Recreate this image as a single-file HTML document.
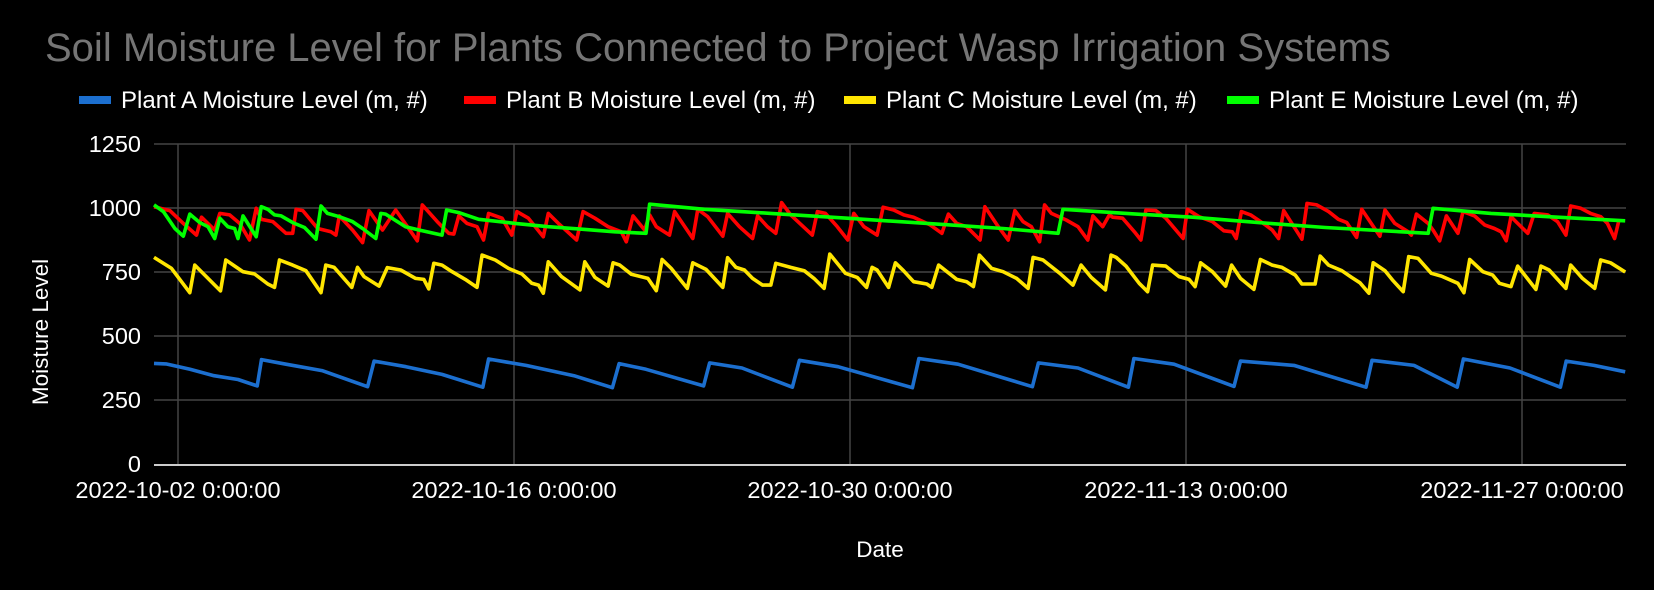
<!DOCTYPE html>
<html><head><meta charset="utf-8">
<style>
html,body{margin:0;padding:0;background:#000;}
svg{display:block;}
text{font-family:"Liberation Sans",Arial,sans-serif;}
</style></head>
<body>
<svg id="chart" width="1654" height="590" viewBox="0 0 1654 590" xmlns="http://www.w3.org/2000/svg">
<rect width="1654" height="590" fill="#000"/>
<text x="45" y="61" font-size="40" fill="#757575">Soil Moisture Level for Plants Connected to Project Wasp Irrigation Systems</text>
<g id="legend"></g>
<g id="grid"></g>
<g id="yticks"></g>
<g id="xticks"></g>
<g id="series"></g>
<text x="880" y="557" font-size="22.5" fill="#fff" text-anchor="middle">Date</text>
<text transform="translate(48,332) rotate(-90)" font-size="22.5" fill="#fff" text-anchor="middle">Moisture Level</text>
</svg>
<script>
// Day offsets from 2022-10-01 00:00
const yTickValues = [0, 250, 500, 750, 1000, 1250];
const xTickDays = [1, 15, 29, 43, 57];
const xTickLabels = ["2022-10-02 0:00:00","2022-10-16 0:00:00","2022-10-30 0:00:00","2022-11-13 0:00:00","2022-11-27 0:00:00"];
const seriesNames = ["Plant A Moisture Level (m, #)","Plant B Moisture Level (m, #)","Plant C Moisture Level (m, #)","Plant E Moisture Level (m, #)"];

const daysA = [0,0.5,1.5,2.5,3.5,4.3,4.48,5.5,7,8.9,9.17,10.5,12,13.7,13.94,15.5,17.5,19.1,19.38,20.5,22.9,23.15,24.5,26.6,26.89,28.5,31.6,31.87,33.5,36.6,36.85,38.5,40.6,40.83,42.5,45.0,45.27,47.5,50.5,50.75,52.5,54.3,54.56,56.5,58.6,58.84,60,61.3];
const valsA = [393,391,370,345,330,305,408,390,365,302,402,380,350,300,410,385,345,298,392,370,305,395,375,300,405,380,298,412,390,302,395,375,300,412,390,303,402,385,300,405,385,300,410,375,300,402,385,360];

const daysB = [0,0.66,1.22,1.77,1.98,2.53,2.74,3.15,3.57,3.98,4.26,4.47,4.95,5.5,5.78,5.92,6.2,6.82,7.37,7.58,7.72,8.27,8.69,8.96,9.52,10.07,10.97,11.18,11.8,12.28,12.49,12.7,13.04,13.46,13.73,13.94,14.5,14.91,15.12,15.6,16.22,16.43,16.85,17.61,17.88,18.37,18.92,19.47,19.68,19.96,20.44,
 20.65,20.93,21.48,21.69,22.45,22.66,23.07,23.7,23.9,24.39,24.94,25.15,25.56,25.91,26.15,26.53,27.43,27.64,27.98,28.47,28.91,29.16,29.58,30.13,30.38,30.82,31.24,31.65,32.34,32.83,33.1,33.45,33.86,34.42,34.62,35.18,35.59,35.87,36.21,36.56,36.9,37.11,37.39,38.01,38.5,38.91,39.12,39.53,39.81,39.95,40.36,
 40.85,41.12,41.33,41.74,42.16,42.88,43.06,43.54,44.1,44.58,44.93,45.09,45.31,45.69,46.31,46.59,46.86,47.07,47.83,48.04,48.45,48.94,49.35,49.7,50.11,50.32,51.08,51.29,51.7,52.26,52.39,52.6,53.09,53.29,53.57,53.85,54.33,54.54,55.02,55.44,55.85,56.13,56.34,56.54,56.82,57.24,57.51,58.07,58.48,58.83,59.03,59.45,59.86,60.28,60.56,60.86,61.04];
const valsB = [1005,990,940,894,964,914,979,973,940,875,999,956,947,901,901,995,990,920,907,894,969,914,865,990,914,992,872,1012,947,901,898,969,940,927,875,979,960,894,986,960,888,979,940,875,986,960,927,907,868,969,914,
 973,927,894,986,881,995,966,890,979,927,881,969,927,901,1021,973,894,986,979,927,875,979,927,894,1003,992,973,964,934,901,976,940,927,875,1005,927,875,990,947,927,868,1012,979,953,927,875,969,927,973,964,960,
 907,875,992,990,960,881,995,966,947,911,907,881,986,973,934,914,881,990,878,1018,1012,986,956,943,885,995,890,992,940,907,894,976,940,914,872,969,901,986,969,934,920,907,872,966,940,901,979,973,947,894,1008,999,979,966,940,881,953];

const daysC = [0,0.73,1.49,1.70,2.77,2.99,3.71,4.19,4.74,5.02,5.23,5.78,6.33,6.96,7.16,7.51,8.24,8.48,8.75,9.38,9.72,10.28,10.90,11.24,11.45,11.66,12.0,12.42,12.97,13.46,13.67,14.22,14.77,15.33,15.74,16.02,16.22,16.43,16.98,17.75,17.95,18.37,18.92,19.13,19.41,19.89,20.58,
 20.93,21.17,21.55,22.22,22.45,23.0,23.7,23.9,24.25,24.6,24.94,25.36,25.7,25.91,26.53,27.09,27.5,27.92,28.16,28.81,29.3,29.69,29.92,30.13,30.61,30.89,31.23,31.65,32.2,32.41,32.69,33.1,33.45,33.86,34.14,34.39,34.9,35.38,35.94,36.42,36.63,37.04,37.74,38.29,38.63,39.05,39.64,39.88,40.09,
 40.5,41.05,41.4,41.61,42.16,42.71,43.13,43.38,43.61,44.1,44.65,44.9,45.27,45.83,46.1,46.59,47.0,47.55,47.83,48.38,48.59,48.94,49.49,49.9,50.25,50.62,50.8,51.29,51.63,52.05,52.28,52.67,53.22,53.64,54.33,54.58,54.82,55.37,55.78,56.06,56.54,56.82,57.58,57.79,58.13,58.83,59.03,59.52,60.03,60.28,60.69,61.3];
const valsC = [807,764,669,777,676,797,751,742,703,690,797,777,755,669,777,768,690,768,732,695,767,758,725,721,684,784,777,751,721,690,816,797,764,742,706,699,667,790,732,680,790,729,695,786,777,741,725,
 677,799,764,686,786,760,690,806,768,758,725,699,699,784,768,755,725,686,820,745,729,690,768,758,690,786,755,712,703,690,777,747,721,712,693,816,764,751,725,686,807,797,745,699,777,729,680,816,807,
 773,706,673,777,773,732,721,693,786,751,695,777,725,682,799,777,768,738,703,703,812,777,755,729,708,667,786,755,716,673,810,803,745,734,706,669,799,751,738,706,693,773,682,773,758,686,777,725,686,797,786,750];

const daysE = [0,0.39,0.87,1.22,1.49,1.91,2.25,2.53,2.74,3.08,3.36,3.5,3.71,4.26,4.47,4.74,5.02,5.3,5.78,6.27,6.75,6.96,7.23,7.72,8.27,8.69,9.24,9.45,9.65,10.14,10.48,11.04,12.0,12.19,12.7,13.53,15.05,16.43,17.82,19.2,20.5,20.65,22.94,25.7,28.88,32.62,35.38,37.67,37.87,40.92,43.27,46.03,48.8,53.09,53.29,55.71,58.48,61.3];
const valsE = [1012,986,920,890,976,943,927,881,960,927,920,881,969,888,1005,995,973,969,943,924,878,1008,979,966,947,920,881,979,976,947,927,914,894,992,982,956,940,927,917,907,901,1015,995,979,960,937,920,901,995,976,964,943,924,901,999,979,964,950];

const allDays = [daysA, daysB, daysC, daysE];
const allVals = [valsA, valsB, valsC, valsE];
const colors = ["#1c6fcf","#ff0000","#ffe500","#00ff00"];

const NS = "http://www.w3.org/2000/svg";
const L = 154, R = 1626, T = 144, B = 464;
const dayMin = 0, pxPerDay = 24.0;
const yMax = 1250;
function xs(d){ return L + (d - dayMin) * pxPerDay; }
function ys(v){ return B - (v / yMax) * (B - T); }
function mk(tag, attrs, parent){
  const e = document.createElementNS(NS, tag);
  for (const k in attrs) e.setAttribute(k, attrs[k]);
  parent.appendChild(e);
  return e;
}
const grid = document.getElementById('grid');
const yt = document.getElementById('yticks');
const xt = document.getElementById('xticks');
yTickValues.forEach(v => {
  if (v > 0) {
    const g = mk('line', {x1:L, x2:R, y1:ys(v), y2:ys(v), stroke:'#444', 'stroke-width':1.5}, grid);
    
    
  }
  const t = mk('text', {x:141, y:ys(v)+8, 'font-size':23.5, fill:'#fff', 'text-anchor':'end'}, yt);
  t.textContent = v;
  
  
});
xTickDays.forEach((d, i) => {
  const g = mk('line', {x1:xs(d), x2:xs(d), y1:T, y2:B, stroke:'#444', 'stroke-width':1.5}, grid);
  
  
  const t = mk('text', {x:xs(d), y:498, 'font-size':23.5, fill:'#fff', 'text-anchor':'middle'}, xt);
  t.textContent = xTickLabels[i];
  
  
});
const base = mk('line', {x1:L, x2:R, y1:B+1, y2:B+1, stroke:'#ccc', 'stroke-width':2}, grid);



const sg = document.getElementById('series');
allDays.forEach((days, s) => {
  const vals = allVals[s];
  const pts = days.map((d, i) => xs(d).toFixed(1) + ',' + ys(vals[i]).toFixed(1)).join(' ');
  const p = mk('polyline', {points:pts, fill:'none', stroke:colors[s], 'stroke-width':3.6, 'stroke-linejoin':'round'}, sg);
  
  
});

const lg = document.getElementById('legend');
const legX = [79, 464, 844, 1227];
seriesNames.forEach((n, i) => {
  const r = mk('rect', {x:legX[i], y:96, width:32, height:8, fill:colors[i]}, lg);
  
  
  const t = mk('text', {x:legX[i]+42, y:108, 'font-size':24, fill:'#fff'}, lg);
  t.textContent = n;
  
  
});
</script>
</body></html>
